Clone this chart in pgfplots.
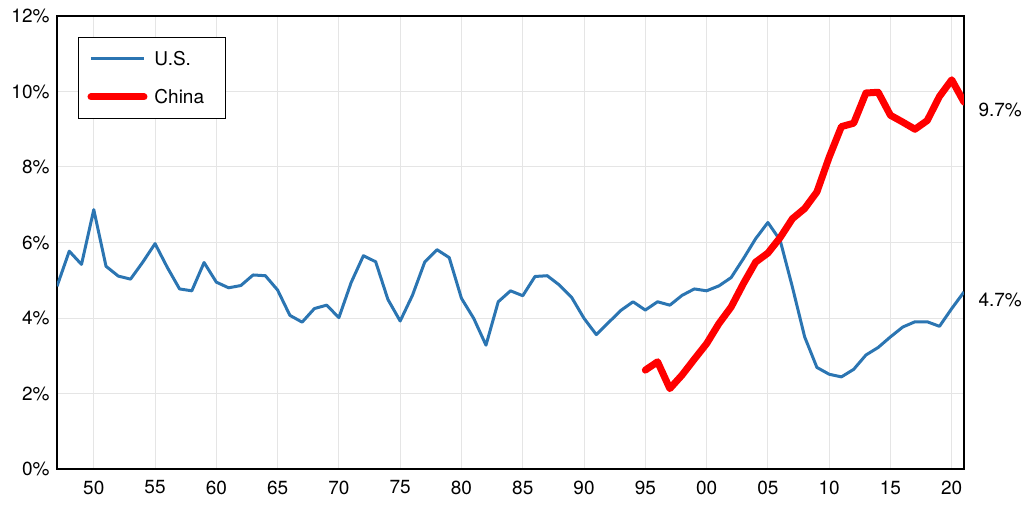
\documentclass[border=0pt]{standalone}
\usepackage{fontspec}
\setmainfont{TeX Gyre Heros}
\usepackage{pgfplots}
\pgfplotsset{compat=1.18}
\definecolor{usblue}{RGB}{43,117,178}
\definecolor{cnred}{RGB}{255,0,0}
\newcommand{\lbl}{\fontsize{19}{23}\selectfont}
\begin{document}
\begin{tikzpicture}
\begin{axis}[
    scale only axis,
    width=907pt, height=453pt,
    xmin=1947, xmax=2021,
    ymin=0, ymax=12,
    xtick={1950,1955,...,2020},
    xticklabels={50,55,60,65,70,75,80,85,90,95,00,05,10,15,20},
    ytick={0,2,...,12},
    yticklabels={0\%,2\%,4\%,6\%,8\%,10\%,12\%},
    major tick length=0pt,
    tick label style={font=\lbl},
    xticklabel style={yshift=-8pt},
    yticklabel style={xshift=-4pt},
    grid=major,
    major grid style={draw=gray!20, line width=1pt},
    axis line style={line width=1.5pt},
    clip mode=individual,
    legend style={at={(0,1)}, anchor=north west, xshift=21pt, yshift=-21pt,
        draw=black, line width=1pt, fill=white, font=\lbl,
        inner xsep=9pt, inner ysep=11.5pt, row sep=18pt,
        nodes={inner xsep=3pt, inner ysep=3pt, text height=14pt, text depth=0pt},
        /tikz/every odd column/.append style={column sep=4pt}},
    legend cell align=left,
    legend image code/.code={\draw[#1] (0pt,0pt) -- (53pt,0pt);},
]
\addplot[usblue, line width=3pt, line join=round] coordinates {
(1947,4.84) (1948,5.77) (1949,5.42) (1950,6.87) (1951,5.37) (1952,5.11)
(1953,5.03) (1954,5.48) (1955,5.97) (1956,5.34) (1957,4.77) (1958,4.72)
(1959,5.47) (1960,4.95) (1961,4.80) (1962,4.86) (1963,5.14) (1964,5.12)
(1965,4.74) (1966,4.07) (1967,3.89) (1968,4.25) (1969,4.34) (1970,4.01)
(1971,4.94) (1972,5.65) (1973,5.49) (1974,4.49) (1975,3.92) (1976,4.60)
(1977,5.48) (1978,5.81) (1979,5.60) (1980,4.52) (1981,3.99) (1982,3.28)
(1983,4.43) (1984,4.72) (1985,4.59) (1986,5.10) (1987,5.12) (1988,4.87)
(1989,4.54) (1990,3.99) (1991,3.56) (1992,3.88) (1993,4.20) (1994,4.43)
(1995,4.21) (1996,4.43) (1997,4.34) (1998,4.60) (1999,4.77) (2000,4.72)
(2001,4.85) (2002,5.07) (2003,5.57) (2004,6.10) (2005,6.53) (2006,6.06)
(2007,4.82) (2008,3.50) (2009,2.69) (2010,2.51) (2011,2.44) (2012,2.64)
(2013,3.02) (2014,3.22) (2015,3.50) (2016,3.76) (2017,3.90) (2018,3.90)
(2019,3.78) (2020,4.25) (2021,4.69)
};
\addlegendentry{\makebox[59pt][l]{U.S.}}
\addplot[cnred, line width=7pt, line join=round, line cap=round] coordinates {
(1995,2.62) (1996,2.84) (1997,2.13) (1998,2.49) (1999,2.91) (2000,3.32)
(2001,3.85) (2002,4.29) (2003,4.91) (2004,5.48) (2005,5.72) (2006,6.13)
(2007,6.63) (2008,6.90) (2009,7.34) (2010,8.26) (2011,9.07) (2012,9.16)
(2013,9.96) (2014,9.98) (2015,9.37) (2016,9.19) (2017,9.00) (2018,9.23)
(2019,9.87) (2020,10.31) (2021,9.72)
};
\addlegendentry{\makebox[59pt][l]{China}}
\node[anchor=west, font=\lbl, xshift=11pt, yshift=-8pt] at (axis cs:2021,9.72) {9.7\%};
\node[anchor=west, font=\lbl, xshift=11pt, yshift=-8pt] at (axis cs:2021,4.69) {4.7\%};
\end{axis}
\pgfresetboundingbox
\path (-57pt,-35pt) rectangle (966pt,469pt);
\end{tikzpicture}
\end{document}
